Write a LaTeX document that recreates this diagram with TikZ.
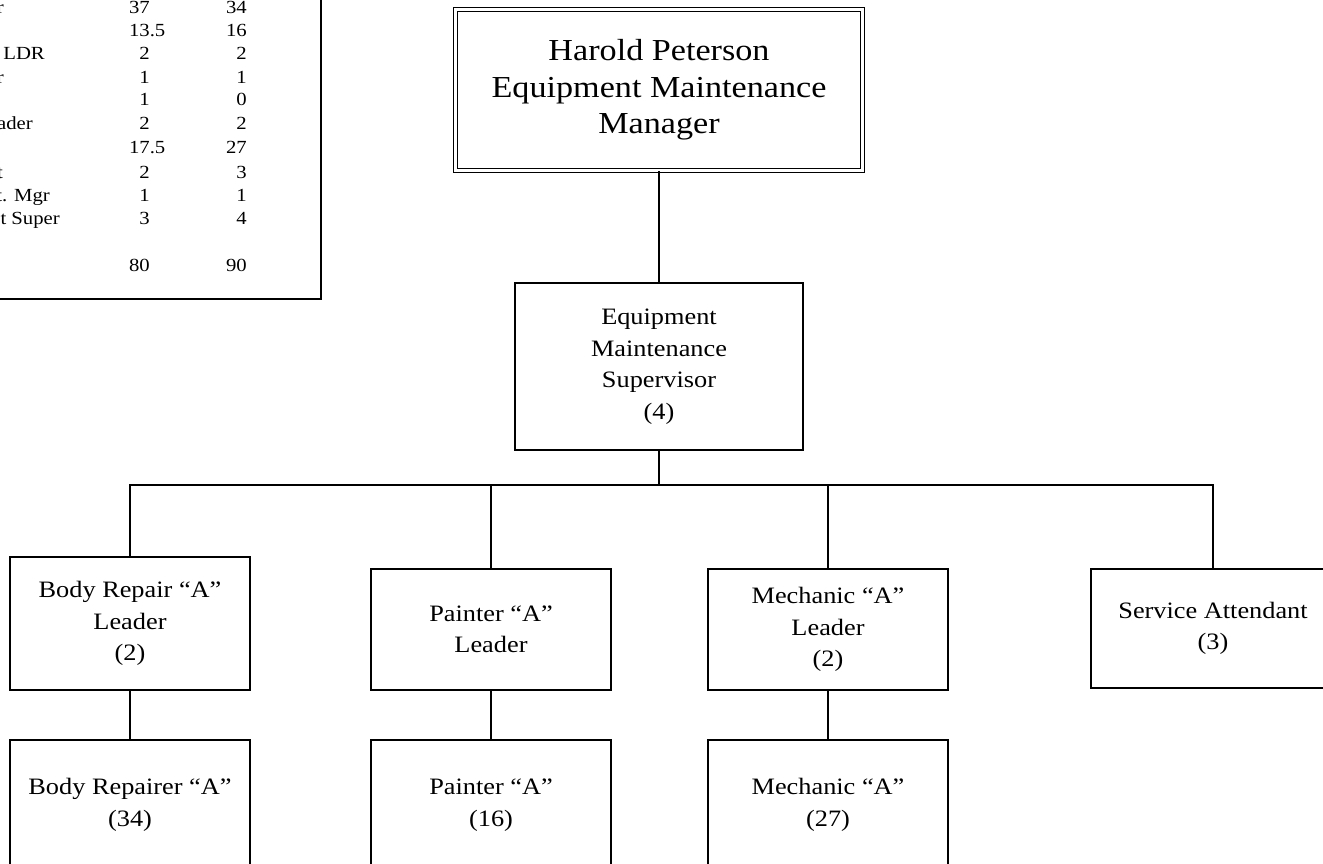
\documentclass[tikz,border=0pt]{standalone}
\usepackage{fontspec}
\setmainfont[FakeStretch=1.12]{Liberation Serif}
\begin{document}
\begin{tikzpicture}[x=1pt,y=-1pt,
  line/.style={line width=1.7pt},
  box/.style={draw, line width=1.7pt, align=center, inner sep=0pt,
    font=\fontsize{23.5}{31.5}\selectfont},
  leaderbox/.style={box, minimum width=240pt, minimum height=121pt},
  workerbox/.style={box, minimum width=240pt, minimum height=130pt},
  mgrbox/.style={draw, double, line width=1.5pt, double distance=2.4pt,
    align=center, inner sep=0pt, minimum width=407pt, minimum height=161pt,
    font=\fontsize{30.5}{36.5}\selectfont},
  tab/.style={inner sep=0pt, anchor=base east, font=\fontsize{18.5}{22}\selectfont}]
\useasboundingbox (0,0) rectangle (1323,863);
\begin{scope}
\clip (0,0) rectangle (1323,863);

% ---- table (cut off at the left edge, as in the reference) ----
\draw[line] (321,-5) -- (321,299) -- (-5,299);
\foreach \lab/\lx/\a/\b/\y in {
  Body Repairer/4/37/34/13,
  /0/13\rlap{.5}/16/36,
  Body Repair LDR/45/2/2/59,
  Painter/4/1/1/83,
  /0/1/0/105,
  Mechanic Leader/33/2/2/129,
  /0/17\rlap{.5}/27/153,
  Service Attendant/3/2/3/178,
  Asst. Mgr/50/\hphantom{0}1/1/201,
  Asst Super/60/3/4/224,
  /0/80/90/271}{
  \node[tab] at (\lx,\y) {\lab};
  \node[tab] at (150,\y) {\a};
  \node[tab] at (247,\y) {\b};
}

% ---- chart ----
\node[mgrbox] (mgr) at (659,90) {Harold Peterson\\Equipment Maintenance\\Manager};
\node[box, minimum width=288pt, minimum height=167pt] (sup) at (659,366.5)
  {Equipment\\Maintenance\\Supervisor\\(4)};

\node[box, minimum width=240pt, minimum height=133pt] (b1) at (130,623.5)
  {Body Repair “A”\\Leader\\(2)};
\node[leaderbox] (b2) at (491,629.5) {Painter “A”\\Leader};
\node[leaderbox] (b3) at (828,629.5) {Mechanic “A”\\Leader\\(2)};
\node[box, minimum width=244pt, minimum height=119pt] (b4) at (1213,628.5)
  {Service Attendant\\(3)};

\node[workerbox] (w1) at (130,805) {Body Repairer “A”\\(34)};
\node[workerbox] (w2) at (491,805) {Painter “A”\\(16)};
\node[workerbox] (w3) at (828,805) {Mechanic “A”\\(27)};

\coordinate (bus) at (659,485);
\draw[line] (mgr.south) -- (sup.north);
\draw[line] (sup.south) -- (bus);
\draw[line] (b1.north) -- (b1.north |- bus) -- (b4.north |- bus) -- (b4.north);
\draw[line] (b2.north) -- (b2.north |- bus);
\draw[line] (b3.north) -- (b3.north |- bus);
\draw[line] (b1.south) -- (w1.north);
\draw[line] (b2.south) -- (w2.north);
\draw[line] (b3.south) -- (w3.north);
\end{scope}
\end{tikzpicture}
\end{document}
